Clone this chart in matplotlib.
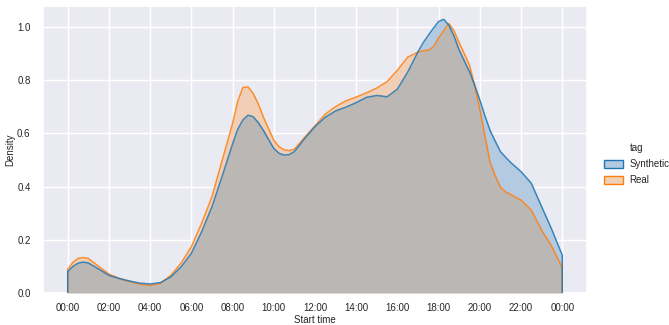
import numpy as np
import matplotlib
matplotlib.use("Agg")
import matplotlib.pyplot as plt
import seaborn as sns
from matplotlib.patches import Patch

# ---- data ----
hours = [0.0, 0.25, 0.5, 0.75, 1.0, 1.5, 2.0, 2.5, 3.0, 3.5, 4.0, 4.5, 5.0, 5.5,
         6.0, 6.5, 7.0, 7.5, 8.0, 8.25, 8.5, 8.75, 9.0, 9.25, 9.5, 10.0, 10.25,
         10.5, 10.75, 11.0, 11.5, 12.0, 12.5, 13.0, 13.5, 14.0, 14.5, 15.0, 15.5,
         16.0, 16.5, 17.0, 17.25, 17.5, 17.75, 18.0, 18.25, 18.5, 18.75, 19.0,
         19.5, 19.75, 20.0, 20.25, 20.5, 20.75, 21.0, 21.25, 21.5, 22.0, 22.5,
         23.0, 23.5, 24.0]

synthetic = [0.080, 0.100, 0.112, 0.116, 0.113, 0.090, 0.066, 0.054, 0.045, 0.037,
             0.034, 0.039, 0.060, 0.098, 0.149, 0.230, 0.324, 0.440, 0.560, 0.615,
             0.650, 0.668, 0.662, 0.640, 0.610, 0.543, 0.525, 0.518, 0.520, 0.531,
             0.580, 0.625, 0.660, 0.684, 0.698, 0.715, 0.735, 0.742, 0.737, 0.766,
             0.830, 0.906, 0.940, 0.968, 0.995, 1.020, 1.028, 1.005, 0.965, 0.912,
             0.831, 0.780, 0.725, 0.665, 0.610, 0.570, 0.531, 0.510, 0.490, 0.456,
             0.412, 0.324, 0.237, 0.142]

real = [0.089, 0.115, 0.130, 0.133, 0.130, 0.100, 0.071, 0.055, 0.043, 0.033,
        0.028, 0.036, 0.066, 0.112, 0.174, 0.262, 0.362, 0.500, 0.637, 0.720,
        0.772, 0.774, 0.750, 0.710, 0.660, 0.574, 0.550, 0.538, 0.535, 0.540,
        0.585, 0.628, 0.672, 0.700, 0.722, 0.736, 0.752, 0.770, 0.794, 0.837,
        0.886, 0.905, 0.910, 0.912, 0.925, 0.958, 0.985, 1.012, 0.985, 0.940,
        0.856, 0.780, 0.690, 0.590, 0.490, 0.440, 0.397, 0.380, 0.370, 0.349,
        0.311, 0.236, 0.174, 0.095]

series_names = ["Synthetic", "Real"]
tick_hours = [0, 2, 4, 6, 8, 10, 12, 14, 16, 18, 20, 22, 24]
tick_labels = ["00:00", "02:00", "04:00", "06:00", "08:00", "10:00", "12:00",
               "14:00", "16:00", "18:00", "20:00", "22:00", "00:00"]
y_ticks = [0.0, 0.2, 0.4, 0.6, 0.8, 1.0]

# ---- style ----
sns.set_theme(style="darkgrid")
plt.rcParams["font.family"] = ["Liberation Sans", "DejaVu Sans"]

blue = "#1f77b4"
orange = "#ff7f0e"
blue_fill = "#b4cae1"
orange_fill = "#f0cfb6"
overlap_fill = "#bab7b4"

fig = plt.figure(figsize=(6.69, 3.25), dpi=100)
ax = fig.add_axes([0.0643, 0.0985, 0.8131, 0.883])

x = np.array(hours)
ys = np.array(synthetic)
yr = np.array(real)
ylow = np.minimum(ys, yr)

ax.fill_between(x, 0, ys, color=blue_fill, linewidth=0, zorder=2)
ax.fill_between(x, 0, yr, color=orange_fill, linewidth=0, zorder=2)
ax.fill_between(x, 0, ylow, color=overlap_fill, linewidth=0, zorder=3)

# outlines (closed like a filled kde polygon)
xo = np.concatenate([[x[0]], x, [x[-1]]])
ax.plot(xo, np.concatenate([[0], yr, [0]]), color=orange, lw=1.1, alpha=0.85,
        zorder=4, solid_joinstyle="round")
ax.plot(xo, np.concatenate([[0], ys, [0]]), color=blue, lw=1.1, alpha=0.85,
        zorder=5, solid_joinstyle="round")

ax.set_xlim(-1.2, 25.2)
ax.set_ylim(0, 1.078)
ax.set_xticks(tick_hours)
ax.set_xticklabels(tick_labels)
ax.set_yticks(y_ticks)
ax.set_yticklabels([f"{v:.1f}" for v in y_ticks])
ax.tick_params(axis="x", labelsize=7, colors="#262626", pad=1.5)
ax.tick_params(axis="y", labelsize=7, colors="#262626", pad=3)
ax.set_xlabel("Start time", fontsize=7, color="#262626", labelpad=1)
ax.set_ylabel("Density", fontsize=7, color="#262626", labelpad=1)

handles = [Patch(facecolor=blue_fill, edgecolor=blue, lw=1.0),
           Patch(facecolor=orange_fill, edgecolor=orange, lw=1.0)]
leg = fig.legend(handles, series_names, title="tag", loc="center left",
                 bbox_to_anchor=(0.897, 0.495), frameon=False, fontsize=7,
                 title_fontsize=7, handlelength=2.0, handleheight=0.9,
                 handletextpad=0.6, labelspacing=0.6, borderaxespad=0)

fig.savefig("out.png", dpi=100, facecolor="white")
